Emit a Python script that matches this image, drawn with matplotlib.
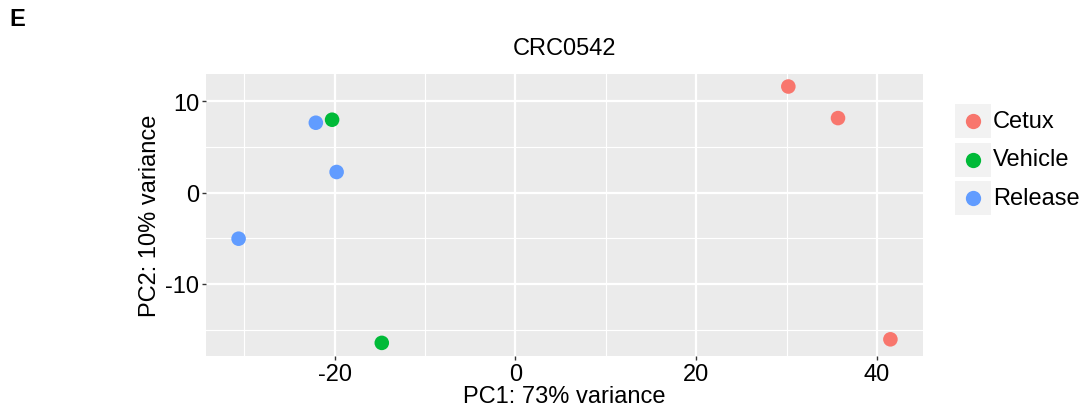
"""PCA scatter for CRC0542 (ggplot-like style)."""

import matplotlib
matplotlib.use("Agg")
import matplotlib.pyplot as plt
from matplotlib.patches import Rectangle

plt.rcParams["font.family"] = ["Liberation Sans", "DejaVu Sans"]
plt.rcParams["axes.unicode_minus"] = False

# Data
groups = ["Cetux", "Vehicle", "Release"]
colors = ["#F8766D", "#00BA38", "#619CFF"]
pc1 = {
    "Cetux": [30.2, 35.7, 41.5],
    "Vehicle": [-20.3, -14.8],
    "Release": [-22.1, -19.8, -30.65],
}
pc2 = {
    "Cetux": [11.64, 8.18, -16.07],
    "Vehicle": [8.0, -16.46],
    "Release": [7.67, 2.27, -5.04],
}
x_ticks = [-20, 0, 20, 40]
y_ticks = [-10, 0, 10]

fs = 17

fig = plt.figure(figsize=(10.84, 4.14), dpi=100)
ax = fig.add_axes([206 / 1084, 1 - 356.7 / 414, (923 - 206) / 1084, (356.7 - 74.7) / 414])
ax.set_facecolor("#EBEBEB")
for s in ax.spines.values():
    s.set_visible(False)

# limits: ggplot 5% expansion
all_x = [v for g in groups for v in pc1[g]]
all_y = [v for g in groups for v in pc2[g]]
dx = (max(all_x) - min(all_x)) * 0.05
dy = (max(all_y) - min(all_y)) * 0.05
ax.set_xlim(min(all_x) - dx, max(all_x) + dx)
ax.set_ylim(min(all_y) - dy, max(all_y) + dy)

ax.set_xticks(x_ticks)
ax.set_yticks(y_ticks)
ax.set_xticks([-30, -10, 10, 30], minor=True)
ax.set_yticks([-15, -5, 5], minor=True)
ax.grid(which="major", color="white", lw=1.6)
ax.grid(which="minor", color="white", lw=0.8)
ax.set_axisbelow(True)
ax.tick_params(which="major", length=3, width=1, color="#333333", labelsize=fs, pad=2)
ax.tick_params(which="minor", length=0)

for g, c in zip(groups, colors):
    ax.scatter(pc1[g], pc2[g], s=110, color=c, edgecolors="none", zorder=3)

ax.set_xlabel("PC1: 73% variance", fontsize=fs, labelpad=0)
ax.set_ylabel("PC2: 10% variance", fontsize=fs, labelpad=3)
ax.set_title("CRC0542", fontsize=fs, pad=14)

# legend drawn ggplot-style
for i, (g, c) in enumerate(zip(groups, colors)):
    yc = 122 + i * 38.5
    fig.patches.append(Rectangle((955 / 1084, 1 - (yc + 17) / 414), 36 / 1084, 34 / 414,
                                 transform=fig.transFigure, facecolor="#F2F2F2",
                                 edgecolor="none"))
    fig.lines.append(plt.Line2D([973 / 1084], [1 - yc / 414], marker="o", markersize=11,
                                color=c, markeredgecolor="none", transform=fig.transFigure))
    fig.text(993 / 1084, 1 - yc / 414, g, fontsize=fs, va="center", ha="left")

fig.text(9 / 1084, 1 - 19 / 414, "E", fontsize=17, fontweight="bold", va="center")

fig.savefig("out.png", dpi=100)
